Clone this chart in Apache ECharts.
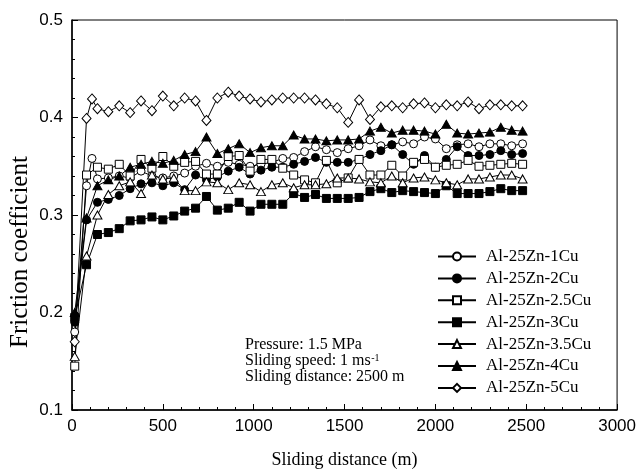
<!DOCTYPE html>
<html>
<head>
<meta charset="utf-8">
<script src="https://cdn.jsdelivr.net/npm/echarts@6/dist/echarts.min.js"></script>
<style>
html,body{margin:0;padding:0;background:#fff;}
#chart{width:639px;height:474px;}
</style>
</head>
<body>
<div id="chart"></div>
<script>
// Sliding distance (m) for every sample
const distance = [15, 80, 110, 140, 200, 260, 320, 380, 440, 500, 560, 620, 680, 740, 800, 860, 920, 980, 1040, 1100, 1160, 1220, 1280, 1340, 1400, 1460, 1520, 1580, 1640, 1700, 1760, 1820, 1880, 1940, 2000, 2060, 2120, 2180, 2240, 2300, 2360, 2420, 2480];

const cu1 = [0.180, 0.330, 0.358, 0.337, 0.338, 0.340, 0.338, 0.345, 0.340, 0.338, 0.340, 0.343, 0.350, 0.353, 0.350, 0.354, 0.352, 0.350, 0.352, 0.354, 0.358, 0.359, 0.365, 0.370, 0.367, 0.364, 0.368, 0.371, 0.377, 0.371, 0.372, 0.375, 0.373, 0.380, 0.378, 0.368, 0.372, 0.373, 0.370, 0.373, 0.373, 0.371, 0.373];
const cu2 = [0.190, 0.295, null, 0.313, 0.316, 0.320, 0.327, 0.332, 0.333, 0.330, 0.333, 0.326, 0.341, 0.336, 0.339, 0.345, 0.349, 0.342, 0.346, 0.349, 0.349, 0.352, 0.355, 0.359, 0.354, 0.354, 0.354, 0.357, 0.362, 0.366, 0.372, 0.362, 0.352, 0.361, 0.349, 0.357, 0.370, 0.361, 0.361, 0.362, 0.366, 0.362, 0.363];
const cu25 = [0.145, 0.341, null, 0.349, 0.347, 0.352, 0.340, 0.357, 0.348, 0.360, 0.350, 0.354, 0.355, 0.342, 0.342, 0.360, 0.361, 0.345, 0.357, 0.357, 0.348, 0.341, 0.336, 0.333, 0.356, 0.333, 0.338, 0.357, 0.341, 0.341, 0.351, 0.340, 0.354, 0.357, 0.349, 0.351, 0.352, 0.356, 0.350, 0.351, 0.352, 0.353, 0.352];
const cu3 = [0.195, 0.249, null, 0.280, 0.282, 0.286, 0.294, 0.295, 0.298, 0.295, 0.299, 0.304, 0.307, 0.319, 0.305, 0.307, 0.313, 0.304, 0.311, 0.311, 0.311, 0.322, 0.318, 0.321, 0.317, 0.317, 0.317, 0.318, 0.324, 0.327, 0.323, 0.325, 0.324, 0.323, 0.322, 0.330, 0.322, 0.322, 0.322, 0.324, 0.327, 0.325, 0.325];
const cu35 = [0.155, 0.258, null, 0.300, 0.321, 0.330, 0.334, 0.322, 0.341, 0.337, 0.338, 0.325, 0.325, 0.334, 0.333, 0.326, 0.333, 0.331, 0.324, 0.331, 0.333, 0.328, 0.331, 0.331, 0.332, 0.338, 0.338, 0.337, 0.334, 0.333, 0.340, 0.333, 0.338, 0.339, 0.336, 0.333, 0.331, 0.337, 0.337, 0.339, 0.341, 0.341, 0.337];
const cu4 = [0.200, 0.297, null, 0.330, 0.336, 0.340, 0.349, 0.352, 0.355, 0.353, 0.356, 0.362, 0.365, 0.380, 0.363, 0.368, 0.373, 0.364, 0.369, 0.371, 0.371, 0.382, 0.378, 0.378, 0.376, 0.377, 0.377, 0.378, 0.386, 0.390, 0.384, 0.387, 0.387, 0.386, 0.383, 0.393, 0.384, 0.383, 0.384, 0.385, 0.390, 0.387, 0.386];
const cu5 = [0.170, 0.399, 0.419, 0.409, 0.406, 0.412, 0.405, 0.417, 0.407, 0.422, 0.412, 0.420, 0.417, 0.397, 0.420, 0.426, 0.422, 0.419, 0.416, 0.418, 0.420, 0.420, 0.420, 0.418, 0.414, 0.410, 0.395, 0.418, 0.398, 0.411, 0.412, 0.410, 0.414, 0.415, 0.410, 0.413, 0.412, 0.416, 0.409, 0.413, 0.413, 0.412, 0.412];

const seriesNames = ['Al-25Zn-1Cu', 'Al-25Zn-2Cu', 'Al-25Zn-2.5Cu', 'Al-25Zn-3Cu', 'Al-25Zn-3.5Cu', 'Al-25Zn-4Cu', 'Al-25Zn-5Cu'];
const seriesValues = [cu1, cu2, cu25, cu3, cu35, cu4, cu5];
const xTicks = [0, 500, 1000, 1500, 2000, 2500, 3000];
const yTicks = [0.1, 0.2, 0.3, 0.4, 0.5];

const markers = [
  {symbol: 'circle', size: 8, fill: '#fff'},
  {symbol: 'circle', size: 8, fill: '#000'},
  {symbol: 'rect', size: 8, fill: '#fff'},
  {symbol: 'rect', size: 8, fill: '#000'},
  {symbol: 'triangle', size: [9, 8], fill: '#fff'},
  {symbol: 'triangle', size: [9, 8], fill: '#000'},
  {symbol: 'diamond', size: [9, 10], fill: '#fff'}
];

const serif = "'Liberation Serif', 'Times New Roman', serif";
const sans = "'Liberation Sans', Arial, sans-serif";
const noteFont = '16px ' + serif;

// measure where the superscript goes
const ctx = document.createElement('canvas').getContext('2d');
ctx.font = noteFont;
const speedWidth = ctx.measureText('Sliding speed: 1 ms').width;

const series = seriesNames.map((name, i) => {
  const data = [];
  distance.forEach((d, j) => {
    const v = seriesValues[i][j];
    if (v !== null && v !== undefined) data.push([d, v]);
  });
  return {
    name: name,
    type: 'line',
    data: data,
    symbol: markers[i].symbol,
    symbolSize: markers[i].size,
    showAllSymbol: true,
    animation: false,
    lineStyle: {color: '#000', width: 1},
    itemStyle: {color: markers[i].fill, borderColor: '#000', borderWidth: 1},
    emphasis: {disabled: true}
  };
});

const noteX = 245, noteY = 337;

const chart = echarts.init(document.getElementById('chart'));
chart.setOption({
  backgroundColor: '#fff',
  animation: false,
  grid: {left: 72, right: 17, top: 20, bottom: 59, show: true, borderColor: '#000', borderWidth: 1, backgroundColor: 'transparent'},
  xAxis: {
    type: 'value', min: xTicks[0], max: xTicks[xTicks.length - 1], interval: 500,
    axisLine: {show: true, lineStyle: {color: '#000', width: 1.5}},
    axisTick: {inside: true, length: 6, lineStyle: {color: '#000'}},
    minorTick: {show: true, splitNumber: 5, length: 3, lineStyle: {color: '#000'}},
    splitLine: {show: false},
    axisLabel: {color: '#000', fontFamily: sans, fontSize: 17, margin: 8, formatter: v => String(v)},
    name: 'Sliding distance (m)', nameLocation: 'middle', nameGap: 41,
    nameTextStyle: {color: '#000', fontFamily: serif, fontSize: 18}
  },
  yAxis: {
    type: 'value', min: yTicks[0], max: yTicks[yTicks.length - 1], interval: 0.1,
    axisLine: {show: true, lineStyle: {color: '#000', width: 1.5}},
    axisTick: {inside: true, length: 6, lineStyle: {color: '#000'}},
    minorTick: {show: true, splitNumber: 5, length: 3, lineStyle: {color: '#000'}},
    splitLine: {show: false},
    axisLabel: {color: '#000', fontFamily: sans, fontSize: 17, margin: 9, formatter: v => v.toFixed(1)}
  },
  legend: {
    orient: 'vertical', left: 437, top: 248, padding: 0,
    itemWidth: 38, itemHeight: 10, itemGap: 4.9,
    textStyle: {color: '#000', fontFamily: serif, fontSize: 17, padding: [0, 0, 0, 5]},
    data: seriesNames
  },
  graphic: [
    {type: 'text', x: 20, y: 252, rotation: Math.PI / 2,
     style: {text: 'Friction coefficient', font: '25px ' + serif, fill: '#000', align: 'center', verticalAlign: 'middle'}},
    {type: 'text', x: noteX, y: noteY,
     style: {text: 'Pressure: 1.5 MPa\nSliding speed: 1 ms\nSliding distance: 2500 m',
       font: noteFont, fill: '#000', lineHeight: 16}},
    {type: 'text', x: noteX + speedWidth + 0.5, y: noteY + 16,
     style: {text: '-1', font: '10px ' + serif, fill: '#000'}}
  ],
  series: series
});
</script>
</body>
</html>
